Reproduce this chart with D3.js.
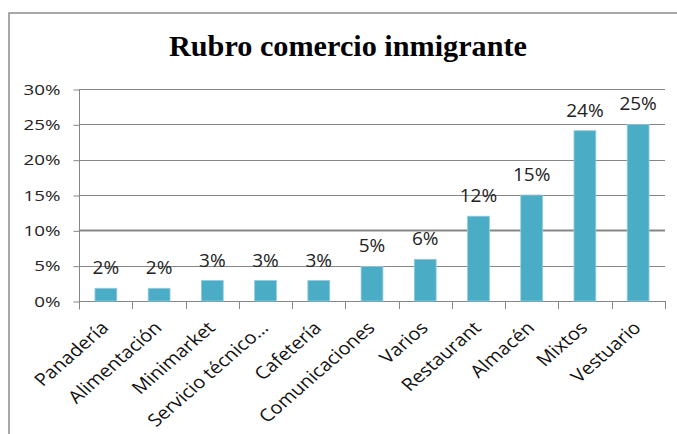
<!DOCTYPE html>
<html>
<head>
<meta charset="utf-8">
<script src="https://cdn.jsdelivr.net/npm/d3@7"></script>
<style>
  body { margin: 0; background: #fff; }
  svg { display: block; }
</style>
</head>
<body>
<div id="chart"></div>
<script>
// values
const categories = ['Panadería', 'Alimentación', 'Minimarket', 'Servicio técnico…', 'Cafetería',
  'Comunicaciones', 'Varios', 'Restaurant', 'Almacén', 'Mixtos', 'Vestuario'];
const shares = [0.018, 0.018, 0.029, 0.029, 0.029, 0.049, 0.059, 0.12, 0.15, 0.241, 0.25];
const yTicks = [0, 0.05, 0.10, 0.15, 0.20, 0.25, 0.30];
const title = 'Rubro comercio inmigrante';

const W = 677, H = 434;
const svg = d3.select('#chart').append('svg')
  .attr('width', W).attr('height', H);

// outer chart frame (runs past the window on right and bottom)
svg.append('rect')
  .attr('x', 9).attr('y', 13)
  .attr('width', W + 20).attr('height', H + 20)
  .attr('fill', 'none').attr('stroke', '#8c8c8c').attr('stroke-width', 1.5);

svg.append('text')
  .attr('x', 348).attr('y', 56)
  .attr('text-anchor', 'middle')
  .attr('font-family', 'Liberation Serif')
  .attr('font-weight', 'bold')
  .attr('font-size', 30)
  .attr('textLength', 358)
  .attr('lengthAdjust', 'spacingAndGlyphs')
  .text(title);

const x = d3.scaleBand().domain(categories).range([79, 665]).paddingInner(0.59).paddingOuter(0.3);
const y = d3.scaleLinear().domain([0, 0.30]).range([301, 89]);
const fmt = d3.format('.0%');

// gridlines
svg.append('g').selectAll('line').data(yTicks.slice(1)).enter().append('line')
  .attr('x1', 79).attr('x2', 665)
  .attr('y1', d => Math.round(y(d)) + 0.5).attr('y2', d => Math.round(y(d)) + 0.5)
  .attr('stroke', '#868686')
  .attr('stroke-width', d => d === 0.10 ? 2 : 1);

// y axis
const yAxis = svg.append('g')
  .attr('transform', 'translate(79.5,0.5)')
  .call(d3.axisLeft(y).tickValues(yTicks).tickFormat(fmt).tickSize(6).tickPadding(13));
yAxis.select('.domain').attr('d', 'M0,' + Math.round(y(0.30)) + 'V309').attr('stroke', '#868686');
yAxis.selectAll('.tick line').attr('stroke', '#868686');
yAxis.selectAll('.tick text')
  .attr('font-family', 'Open Sans').attr('font-size', 15).attr('fill', '#222')
  .attr('transform', 'scale(1.25,1)');
yAxis.selectAll('.tick text').attr('x', -19 / 1.25);

// x axis with tick marks at category boundaries
const edges = d3.range(categories.length + 1).map(i => 79 + i * (665 - 79) / categories.length);
svg.append('line').attr('x1', 79).attr('x2', 665)
  .attr('y1', 301.5).attr('y2', 301.5).attr('stroke', '#868686');
svg.append('g').selectAll('line').data(edges).enter().append('line')
  .attr('x1', d => Math.round(d) + 0.5).attr('x2', d => Math.round(d) + 0.5)
  .attr('y1', 301).attr('y2', 309).attr('stroke', '#868686');

// bars
svg.append('g').selectAll('rect').data(shares).enter().append('rect')
  .attr('x', (d, i) => x(categories[i]))
  .attr('width', x.bandwidth())
  .attr('y', d => y(d))
  .attr('height', d => y(0) - y(d))
  .attr('fill', '#4bacc6')
  .attr('stroke', '#8fcde0').attr('stroke-width', 0.8);

// data labels
svg.append('g').selectAll('text').data(shares).enter().append('text')
  .attr('x', (d, i) => x(categories[i]) + x.bandwidth() / 2)
  .attr('y', d => y(d) - 14)
  .attr('text-anchor', 'middle')
  .attr('font-family', 'Open Sans').attr('font-size', 19).attr('fill', '#222')
  .text(d => fmt(d));

// rotated category labels (picture is slightly stretched horizontally)
svg.append('g').selectAll('text').data(categories).enter().append('text')
  .attr('transform', d => 'translate(' + (x(d) + x.bandwidth() / 2 + 4) + ',329) scale(1.15,1) rotate(-45)')
  .attr('text-anchor', 'end')
  .attr('font-family', 'Open Sans').attr('font-size', 17.5).attr('fill', '#111')
  .text(d => d);
</script>
</body>
</html>
